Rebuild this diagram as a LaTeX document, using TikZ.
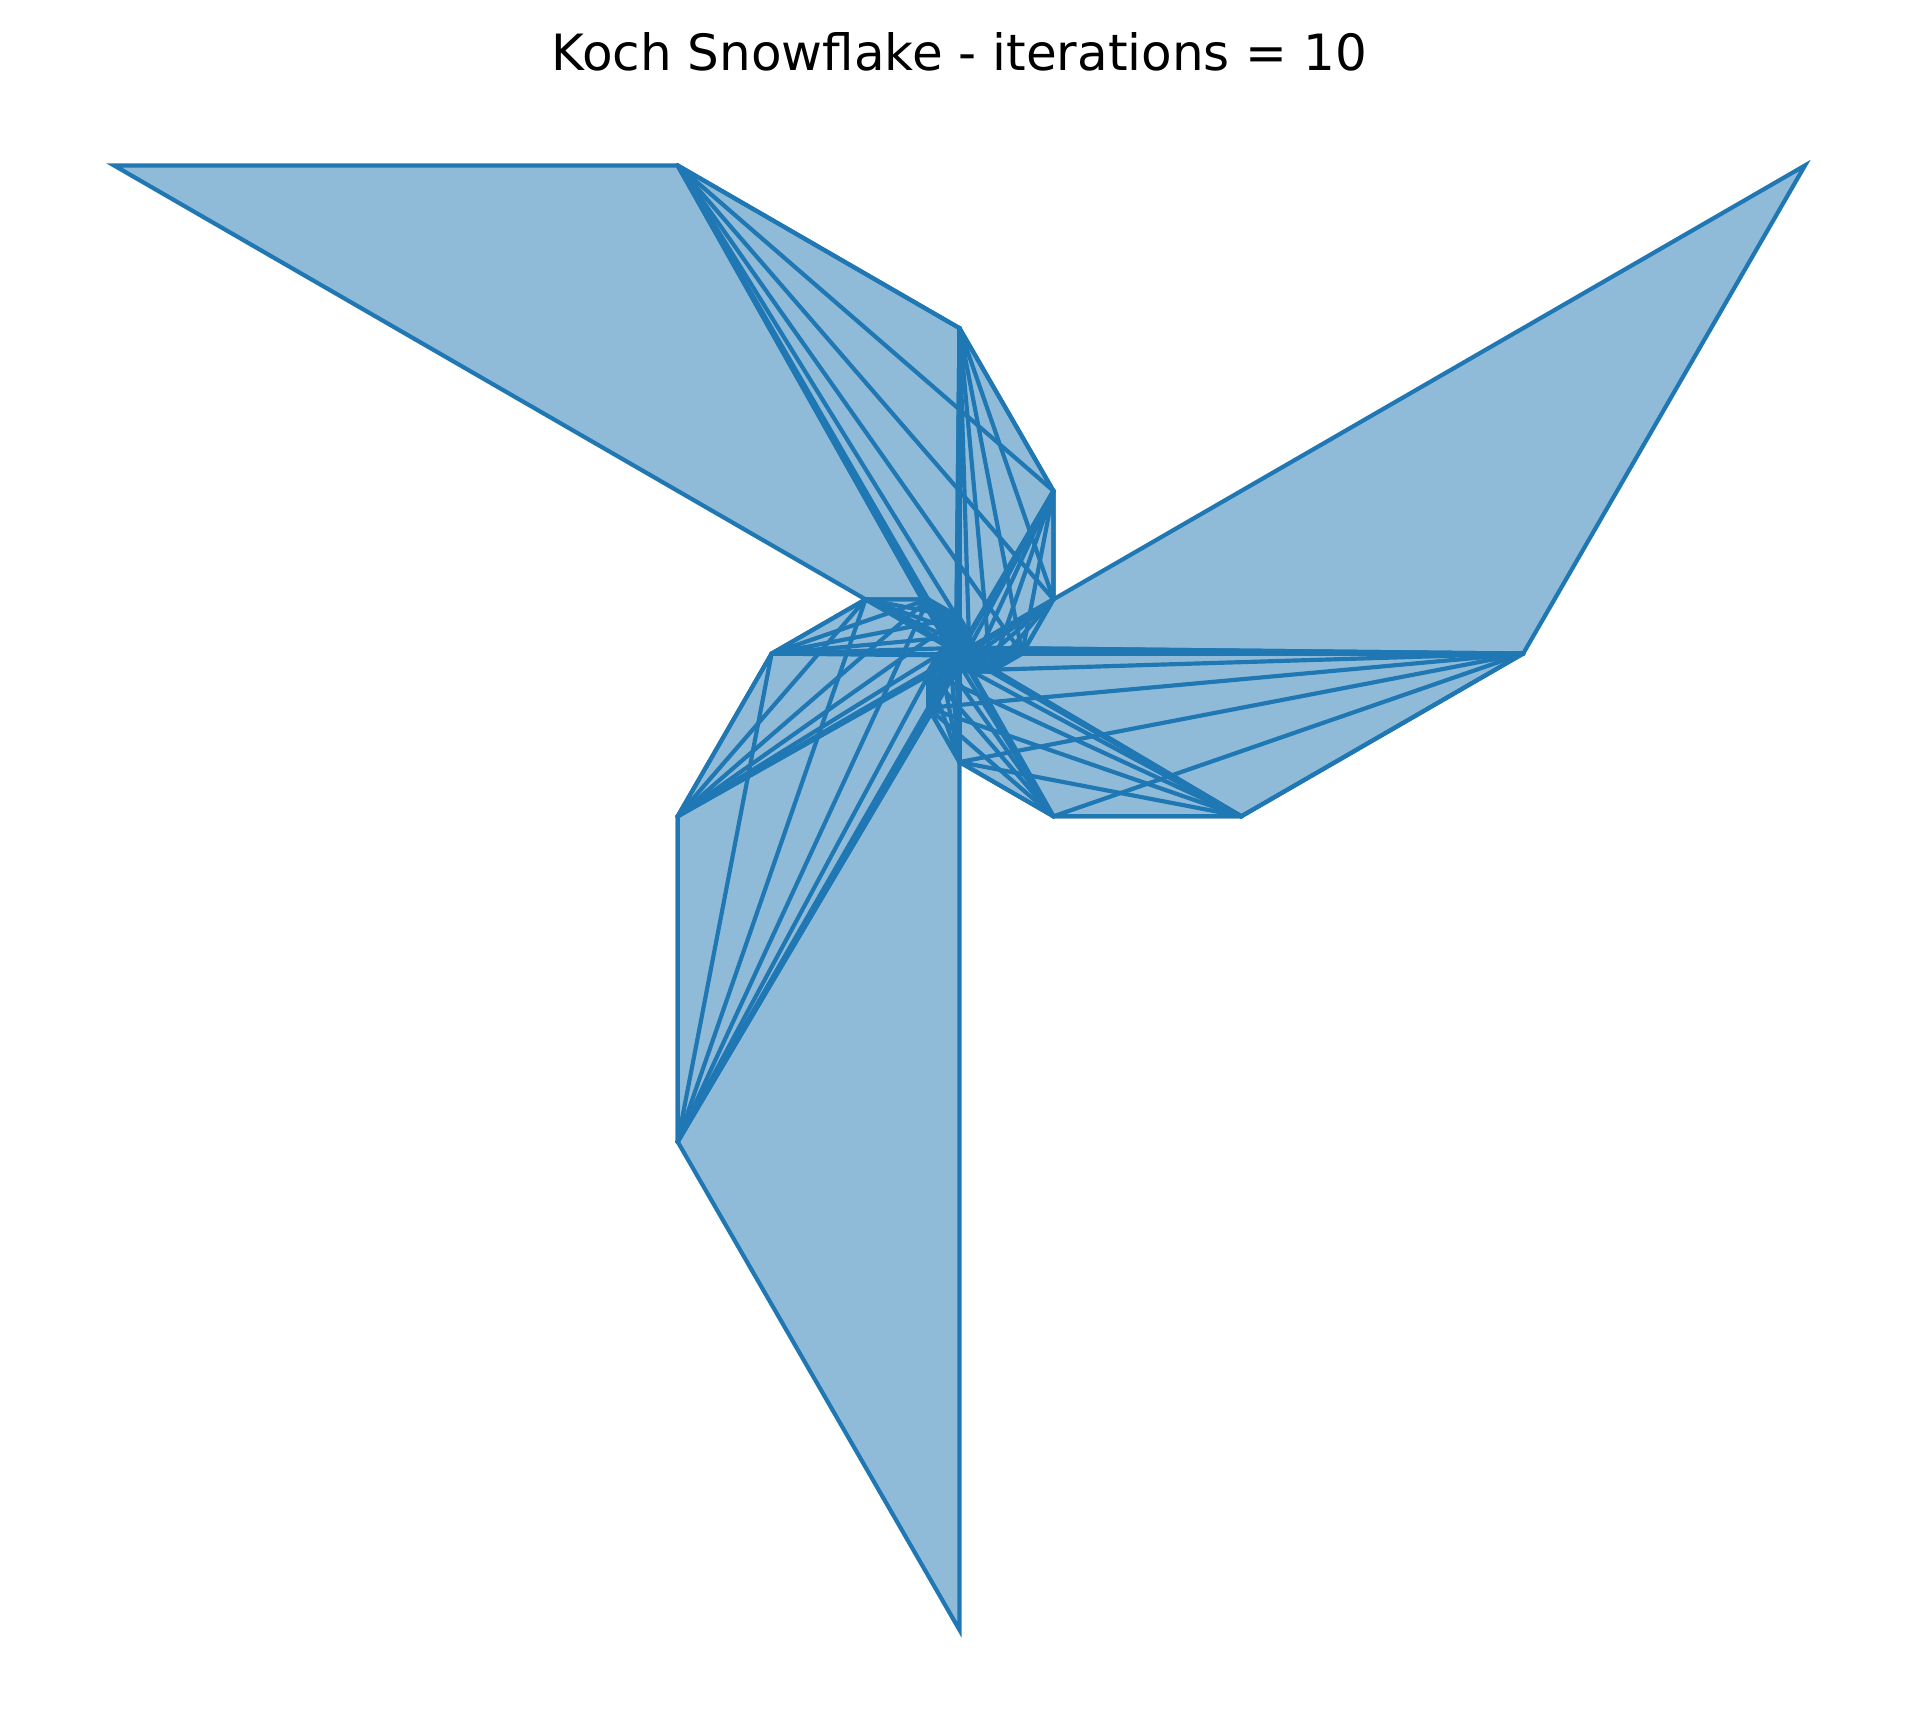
\documentclass[tikz,border=0pt]{standalone}
\usepackage{fontspec}
\usepackage{tikz}
\usetikzlibrary{calc}
\newfontfamily\dejavu{DejaVu Sans}
\definecolor{mplblue}{RGB}{31,119,180}
\definecolor{mplfill}{RGB}{143,187,217}

\begin{document}
\begin{tikzpicture}[x=0.36135pt, y=0.36135pt,
  armfill/.style={fill=mplfill},
  armedge/.style={draw=mplblue, line width=1.5bp, line join=miter},
  fanline/.style={draw=mplblue, line width=1.5bp, line cap=round}]
\path[use as bounding box, fill=white] (0,0) rectangle (1919,1733);
\coordinate (O) at (959.5,1079.4);
\foreach \arm/\start in {1/150, 2/30, 3/270}
  \foreach \k in {0,...,10}
    \coordinate (a\arm p\k) at ($(O)+({\start-30*\k}:{976.3*0.57735^\k})$);
\foreach \arm in {1,2,3}
  \fill[armfill] (O) \foreach \k in {0,...,10} {-- (a\arm p\k)} -- cycle;
\foreach \arm in {1,2,3} {
  \foreach \j in {1,...,9} {
    \pgfmathtruncatemacro{\nxt}{\j+1}
    \foreach \k in {\nxt,...,10}
      \path[fanline] (a\arm p\j) -- (a\arm p\k);
  }
  \path[armedge] (O) \foreach \k in {0,...,10} {-- (a\arm p\k)};
}
\node[font={\dejavu\fontsize{18bp}{22bp}\selectfont}, anchor=base] (title) at (959.5,1662) {Koch Snowflake - iterations = 10};
\end{tikzpicture}
\end{document}
